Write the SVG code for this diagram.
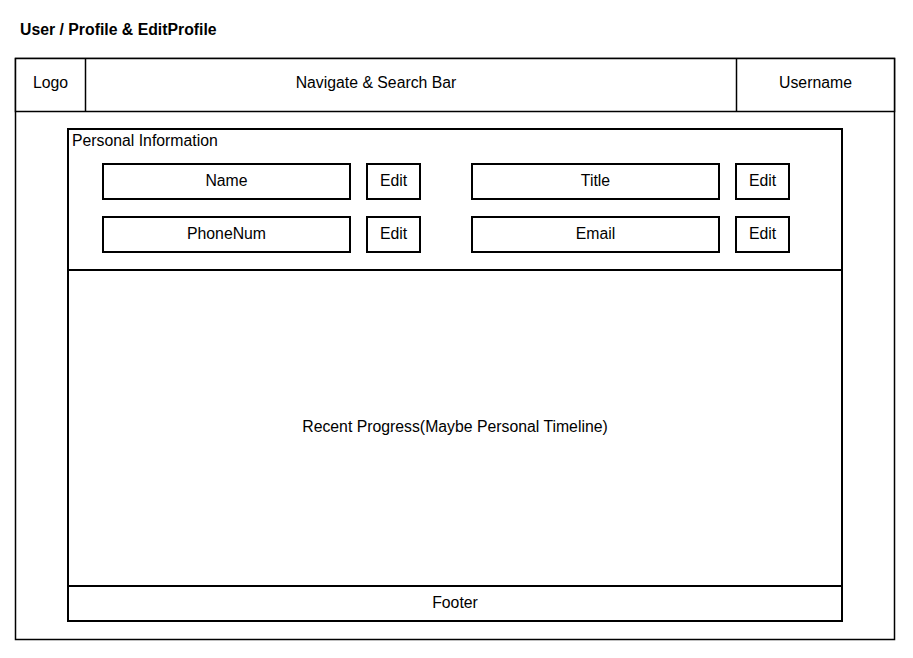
<svg xmlns="http://www.w3.org/2000/svg" width="913" height="658" viewBox="0 0 913 658">
<style>
.b{fill:#fff;stroke:#000;stroke-width:1.5}
.k{fill:#fff;stroke:#000;stroke-width:2}
text{font-family:"Liberation Sans",Arial,sans-serif;font-size:15.8px;fill:#000}
.c{text-anchor:middle}
</style>
<rect width="913" height="658" fill="#fff"/>
<text x="20" y="35" style="font-weight:bold;font-size:15.8px">User / Profile &amp; EditProfile</text>
<g id="frame"><rect class="b" x="15.5" y="58.5" width="879" height="581"/></g>
<g id="header">
<rect class="b" x="15.5" y="58.5" width="879" height="53"/>
<line x1="85.5" y1="58.5" x2="85.5" y2="111.5" stroke="#000" stroke-width="1.5"/>
<line x1="736.5" y1="58.5" x2="736.5" y2="111.5" stroke="#000" stroke-width="1.5"/>
<text class="c" x="50.5" y="88">Logo</text>
<text class="c" x="376" y="88">Navigate &amp; Search Bar</text>
<text class="c" x="815.5" y="88">Username</text>
</g>
<g id="personal">
<rect class="k" x="68" y="129" width="774" height="141"/>
<text x="72" y="146">Personal Information</text>
</g>
<g id="name"><rect class="k" x="103" y="164" width="247" height="35"/><text class="c" x="226.5" y="185.5">Name</text></g>
<g id="name-edit"><rect class="k" x="367" y="164" width="53" height="35"/><text class="c" x="393.5" y="185.5">Edit</text></g>
<g id="title"><rect class="k" x="472" y="164" width="247" height="35"/><text class="c" x="595.5" y="185.5">Title</text></g>
<g id="title-edit"><rect class="k" x="736" y="164" width="53" height="35"/><text class="c" x="762.5" y="185.5">Edit</text></g>
<g id="phone"><rect class="k" x="103" y="217" width="247" height="35"/><text class="c" x="226.5" y="238.5">PhoneNum</text></g>
<g id="phone-edit"><rect class="k" x="367" y="217" width="53" height="35"/><text class="c" x="393.5" y="238.5">Edit</text></g>
<g id="email"><rect class="k" x="472" y="217" width="247" height="35"/><text class="c" x="595.5" y="238.5">Email</text></g>
<g id="email-edit"><rect class="k" x="736" y="217" width="53" height="35"/><text class="c" x="762.5" y="238.5">Edit</text></g>
<g id="progress"><rect class="k" x="68" y="270" width="774" height="316"/><text class="c" x="455" y="431.5">Recent Progress(Maybe Personal Timeline)</text></g>
<g id="footer"><rect class="k" x="68" y="586" width="774" height="35"/><text class="c" x="455" y="607.5">Footer</text></g>
<g id="connectors"/>
</svg>
